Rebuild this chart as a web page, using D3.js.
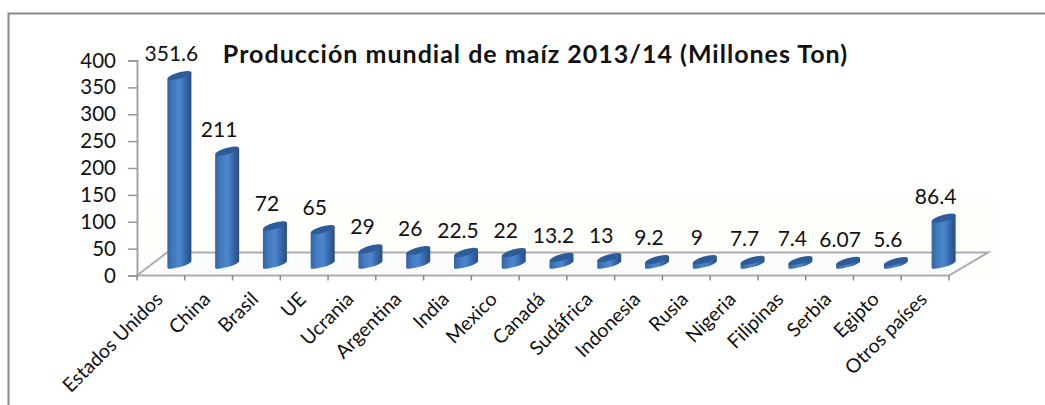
<!DOCTYPE html>
<html><head><meta charset="utf-8">
<script src="https://cdn.jsdelivr.net/npm/d3@7"></script>
<style>html,body{margin:0;padding:0;background:#fff;overflow:hidden}svg{display:block}text{font-family:Lato,"Open Sans",sans-serif;fill:#111}</style>
</head><body><svg id="c" width="1045" height="405"></svg>
<script>
const categories=["Estados Unidos","China","Brasil","UE","Ucrania","Argentina","India","Mexico","Canadá","Sudáfrica","Indonesia","Rusia","Nigeria","Filipinas","Serbia","Egipto","Otros países"];
const values=[351.6,211,72,65,29,26,22.5,22,13.2,13,9.2,9,7.7,7.4,6.07,5.6,86.4];
const valueLabels=["351.6","211","72","65","29","26","22.5","22","13.2","13","9.2","9","7.7","7.4","6.07","5.6","86.4"];
const yTicks=[0,50,100,150,200,250,300,350,400];
const title="Producción mundial de maíz 2013/14 (Millones Ton)";

const W=1045,H=405,depthX=30,depthY=23,barShiftX=18.5,barShiftY=11,barW=24;
const x=d3.scaleBand().domain(categories).range([137,949]);
const y=d3.scaleLinear().domain([0,400]).range([275.5,60.5]);
const svg=d3.select("#c");
const defs=svg.append("defs");
const g=defs.append("linearGradient").attr("id","bar");
[[0,"#34639f"],[.22,"#4079bd"],[.5,"#4c87cf"],[.75,"#3669ab"],[1,"#274d7e"]].forEach(s=>g.append("stop").attr("offset",s[0]).attr("stop-color",s[1]));
const soft=defs.append("filter").attr("id","soft");
soft.append("feGaussianBlur").attr("stdDeviation",.7);

// frame
svg.append("path").attr("d",`M8.5,${H}V13.5H${W}`).attr("fill","none").attr("stroke","#8b8b8b").attr("stroke-width",2);

// pale compression tint, floor and back wall
svg.append("rect").attr("x",137).attr("y",196).attr("width",858).attr("height",84).attr("fill","#fdfcf6").attr("opacity",.45);
const x0=x.range()[0],x1=x.range()[1],y0=y(0);
svg.append("path").attr("d",`M${x0},${y0}L${x0+depthX},${y0-depthY}H${x1+depthX+9}L${x1},${y0}Z`)
  .attr("fill","#fbfcfe").attr("stroke","#aeacb0").attr("stroke-width",2);

// axes
const ya=svg.append("g").attr("transform",`translate(${x0},0)`).call(d3.axisLeft(y).tickValues(yTicks).tickSize(9).tickPadding(12).tickFormat(d3.format("d")));
ya.select(".domain").attr("stroke","#a3a3a3").attr("stroke-width",2);
ya.selectAll("line").attr("stroke","#999").attr("stroke-width",1.5);
ya.selectAll("text").attr("font-size",20.5).attr("fill","#111");

const edges=categories.map(c=>x(c)+x.bandwidth());
svg.append("g").selectAll("line").data([x0,...edges]).join("line")
  .attr("x1",d=>d).attr("x2",d=>d).attr("y1",y0).attr("y2",y0+5).attr("stroke","#888").attr("stroke-width",1.5);

// bars
const cx=c=>x(c)+x.bandwidth()/2+barShiftX;
const ell=(px,py)=>`translate(${px},${py}) rotate(-16)`;
const bars=svg.append("g").attr("filter","url(#soft)").selectAll("g").data(categories).join("g");
bars.append("path").attr("fill","url(#bar)").attr("d",(c,i)=>{
  const px=cx(c),r=barW/2,s=3.4;
  const top=y(values[i])-barShiftY,bot=y(0)-barShiftY;
  return `M${px-r},${top+s}L${px-r},${bot+s}A${r},2.5 -16 0 0 ${px+r},${bot-s}L${px+r},${top-s}Z`;
});
bars.append("ellipse").attr("rx",12.4).attr("ry",3.2).attr("fill","#2d5c98")
  .attr("transform",(c,i)=>ell(cx(c),y(values[i])-barShiftY));

// value labels
svg.append("g").selectAll("text").data(categories).join("text")
  .attr("x",c=>cx(c)-8).attr("y",(c,i)=>y(values[i])-barShiftY-14.5)
  .attr("text-anchor","middle").attr("font-size",21).text((c,i)=>valueLabels[i]);

// category labels
svg.append("g").selectAll("text").data(categories).join("text")
  .attr("text-anchor","end").attr("font-size",19.5)
  .attr("transform",c=>`translate(${x(c)+x.bandwidth()/2+3},${y0+25}) rotate(-45)`).text(c=>c);

// title
svg.append("text").attr("x",535.5).attr("y",63).attr("text-anchor","middle").attr("font-size",25).attr("letter-spacing",1).attr("font-weight",700).attr("fill","#000").text(title);
</script></body></html>
